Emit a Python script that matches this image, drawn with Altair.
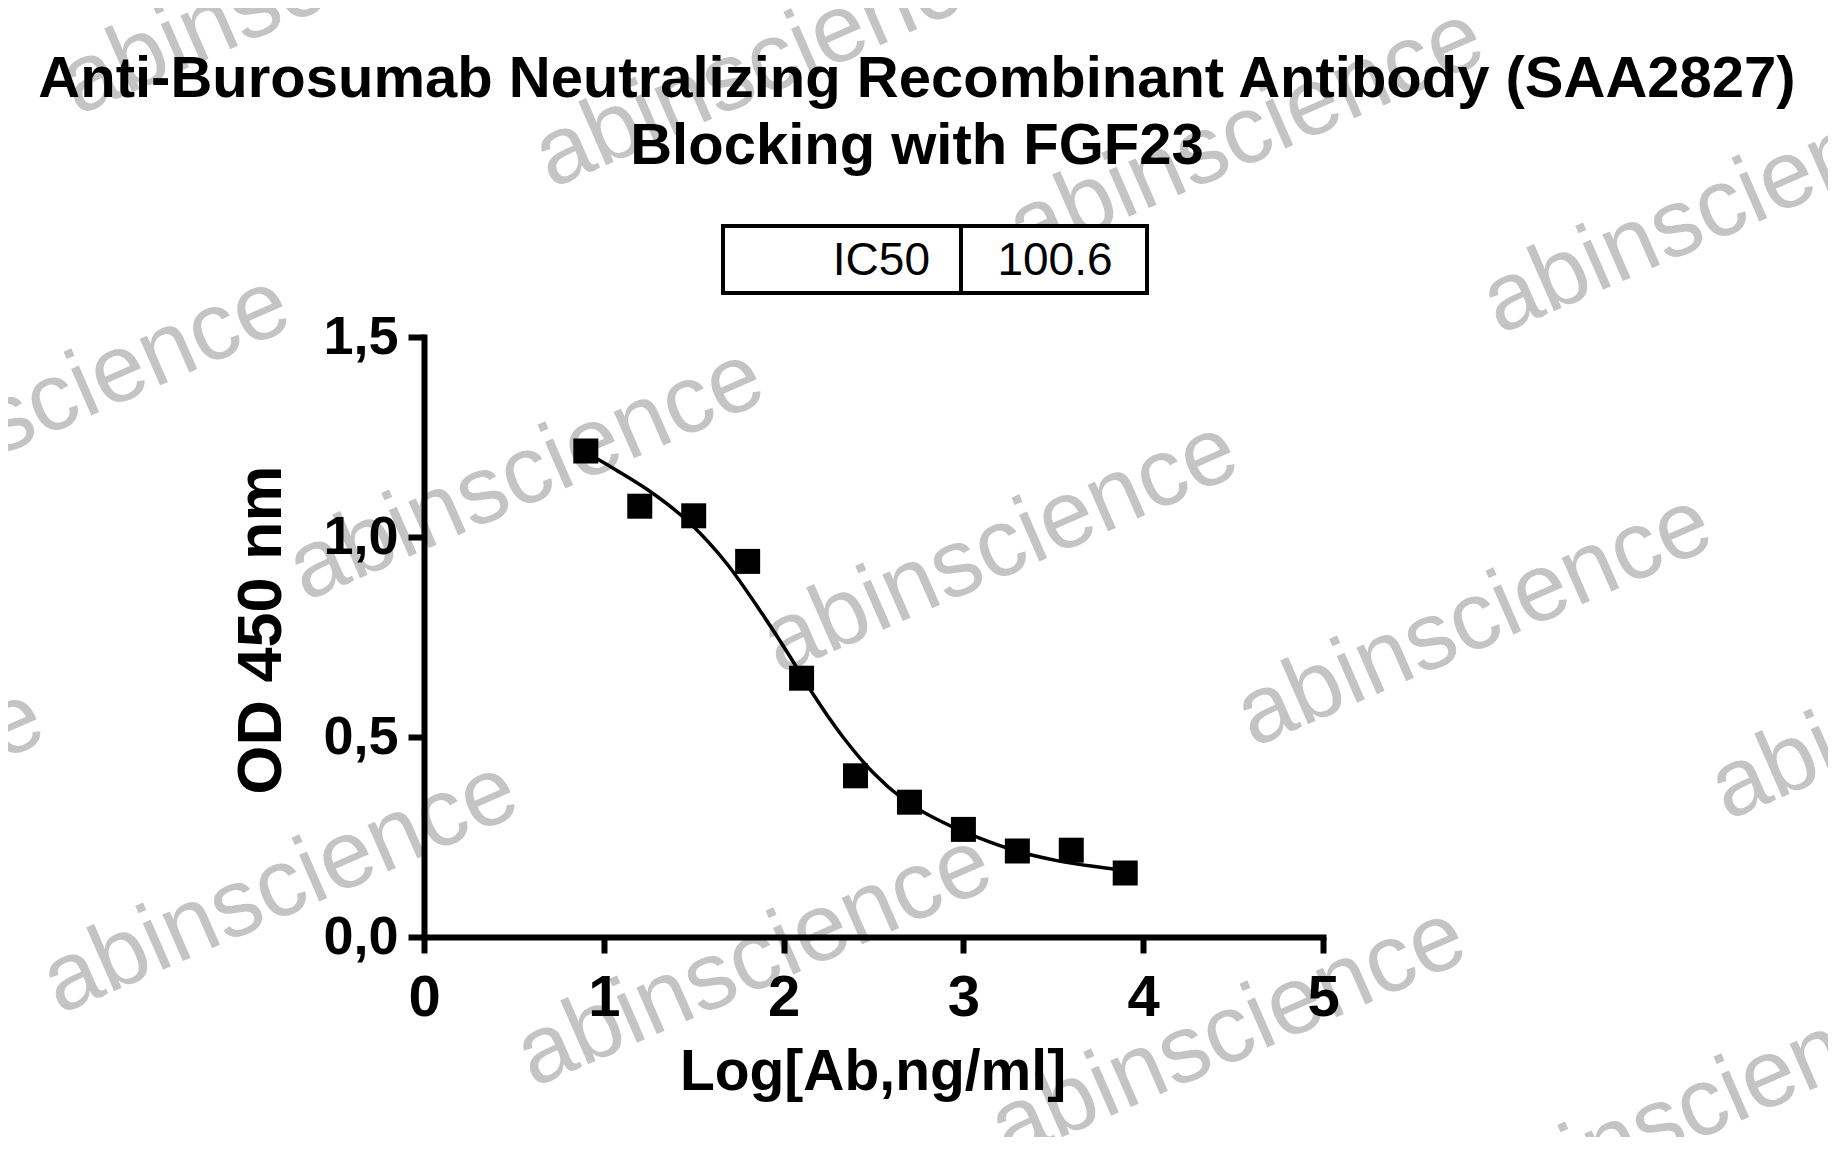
import altair as alt
import pandas as pd

# measured points (log concentration vs OD450)
log_ab = [0.9, 1.2, 1.5, 1.8, 2.1, 2.4, 2.7, 3.0, 3.3, 3.6, 3.9]
od_450 = [1.215, 1.077, 1.053, 0.939, 0.647, 0.403, 0.337, 0.269, 0.215, 0.217, 0.160]

# fitted curve
fit_x = [0.894, 1.07, 1.244, 1.478, 1.69, 1.86, 2.03, 2.16, 2.33, 2.50,
         2.67, 2.88, 3.09, 3.31, 3.52, 3.73, 3.90]
fit_y = [1.213, 1.167, 1.118, 1.035, 0.930, 0.822, 0.705, 0.610, 0.500, 0.410,
         0.343, 0.288, 0.247, 0.213, 0.191, 0.176, 0.166]

x_ticks = [0, 1, 2, 3, 4, 5]
y_ticks = [0, 0.5, 1.0, 1.5]

title_lines = ["Anti-Burosumab Neutralizing Recombinant Antibody (SAA2827)",
               "Blocking with FGF23"]
ic50_label = "IC50"
ic50_value = "100.6"
watermark = "abinscience"

W, H = 899, 600
FONT = "Liberation Sans"

points = pd.DataFrame({"x": log_ab, "y": od_450})
curve = pd.DataFrame({"x": fit_x, "y": fit_y})
one = pd.DataFrame({"k": [0]})

# watermark lattice (pixel offsets from plot origin -> data units)
wm = []
for i in range(-3, 4):
    for j in range(-3, 4):
        px = 576 + 474 * i - 246 * j
        py = 210 + 73 * i + 413 * j
        if -800 < px < 1900 and -600 < py < 1100:
            wm.append({"x": px / W * 5, "y": 1.5 - py / H * 1.5})
wm = pd.DataFrame(wm)

xs = alt.Scale(domain=[0, 5], nice=False)
ys = alt.Scale(domain=[0, 1.5], nice=False)

x_axis = alt.Axis(
    values=x_ticks, title=None, format="d", labelFont=FONT, labelFontSize=58,
    labelFontWeight="bold", labelColor="black", labelPadding=16, labelFlush=False,
    tickSize=16, tickWidth=6, tickColor="black", domainWidth=6,
    domainColor="black", grid=False, domainCap="square", zindex=1)
y_axis = alt.Axis(
    values=y_ticks, title=None, labelExpr="replace(format(datum.value, '.1f'), '.', ',')",
    labelFont=FONT, labelFontSize=54, labelFontWeight="bold", labelColor="black",
    labelPadding=10, labelFlush=False, tickSize=16, tickWidth=6, tickColor="black",
    domainWidth=6, domainColor="black", grid=False, domainCap="square", zindex=1)

# watermark drawn first so it sits behind; axes are defined here
marks_wm = alt.Chart(wm).mark_text(
    text=watermark, font=FONT, fontSize=96, angle=336.4, color="#c4c4c4",
    align="center", baseline="middle"
).encode(x=alt.X("x:Q", scale=xs, axis=x_axis), y=alt.Y("y:Q", scale=ys, axis=y_axis))

box = alt.Chart(one).mark_rect(fill="white", stroke="black", strokeWidth=4).encode(
    x=alt.value(299), x2=alt.value(723), y=alt.value(-111), y2=alt.value(-44))
divider = alt.Chart(one).mark_rule(color="black", strokeWidth=4).encode(
    x=alt.value(537), y=alt.value(-111), y2=alt.value(-44))
box_label = alt.Chart(one).mark_text(
    text=ic50_label, font=FONT, fontSize=46, align="right", baseline="alphabetic"
).encode(x=alt.value(506), y=alt.value(-62))
box_value = alt.Chart(one).mark_text(
    text=ic50_value, font=FONT, fontSize=46, align="center", baseline="alphabetic"
).encode(x=alt.value(631), y=alt.value(-62))

title1 = alt.Chart(one).mark_text(
    text=title_lines[0], font=FONT, fontSize=58, fontWeight="bold",
    align="center", baseline="alphabetic"
).encode(x=alt.value(493), y=alt.value(-240))
title2 = alt.Chart(one).mark_text(
    text=title_lines[1], font=FONT, fontSize=58, fontWeight="bold",
    align="center", baseline="alphabetic"
).encode(x=alt.value(493), y=alt.value(-173))

x_title = alt.Chart(one).mark_text(
    text="Log[Ab,ng/ml]", font=FONT, fontSize=57, fontWeight="bold",
    align="center", baseline="middle"
).encode(x=alt.value(449), y=alt.value(736))
y_title = alt.Chart(one).mark_text(
    text="OD 450 nm", font=FONT, fontSize=63, fontWeight="bold", angle=270,
    align="center", baseline="middle"
).encode(x=alt.value(-162), y=alt.value(293))

line = alt.Chart(curve).mark_line(color="black", strokeWidth=3.5, interpolate="monotone").encode(
    x=alt.X("x:Q", scale=xs), y=alt.Y("y:Q", scale=ys))

dots = alt.Chart(points).mark_square(size=625, color="black", opacity=1).encode(
    x=alt.X("x:Q", scale=xs), y=alt.Y("y:Q", scale=ys))

chart = alt.layer(
    marks_wm, box, divider, box_label, box_value, title1, title2,
    x_title, y_title, line, dots
).properties(
    width=W, height=H,
    background="white",
    autosize=alt.AutoSizeParams(type="none"),
    padding={"left": 416, "top": 329, "right": 505, "bottom": 200}
).configure_view(stroke=None)

chart.save("out.html", embed_options={"renderer": "svg", "actions": False})
